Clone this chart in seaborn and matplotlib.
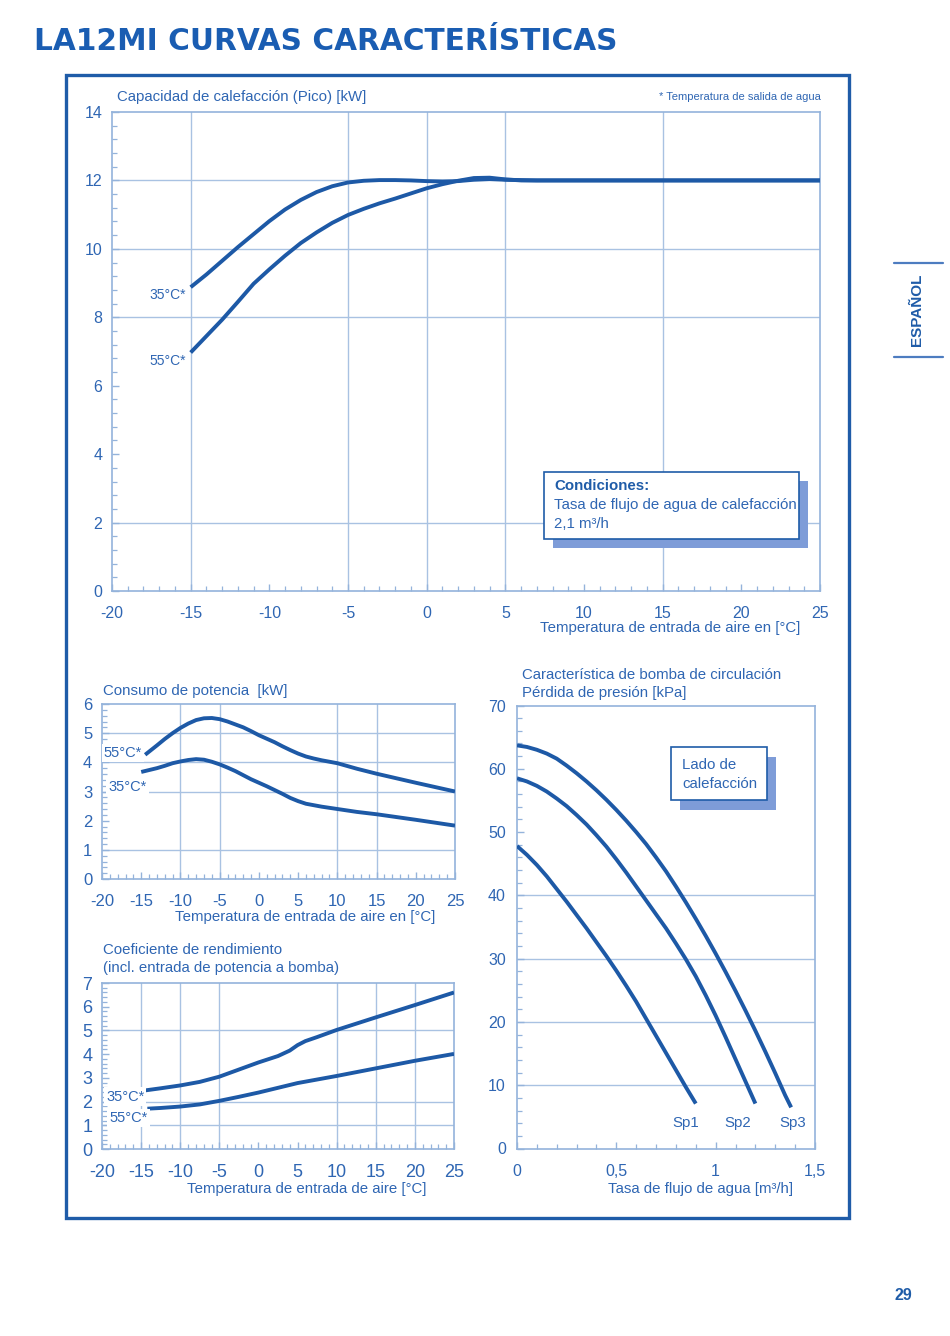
import numpy as np
import pandas as pd
import matplotlib
matplotlib.use("Agg")
import matplotlib.pyplot as plt
from matplotlib.patches import Rectangle
from matplotlib.lines import Line2D
from matplotlib.ticker import MultipleLocator, FixedLocator, FixedFormatter
import seaborn as sns

# ---------------- data ----------------
# capacidad de calefaccion [kW] vs temperatura de entrada de aire [C]
cap_t35 = [-15, -14, -13, -12, -11, -10, -9, -8, -7, -6, -5, -4, -3, -2, -1, 0, 1, 2, 3, 4, 5, 7, 25]
cap_v35 = [8.88, 9.25, 9.65, 10.05, 10.43, 10.81, 11.15, 11.43, 11.66, 11.83, 11.94, 11.99, 12.01, 12.01,
           12.0, 11.98, 11.97, 11.98, 12.02, 12.04, 12.02, 12.0, 12.0]
cap_t55 = [-15, -14, -13, -12, -11, -10, -9, -8, -7, -6, -5, -4, -3, -2, -1, 0, 1, 2, 3, 4, 5, 6, 7, 25]
cap_v55 = [6.97, 7.45, 7.93, 8.45, 8.98, 9.4, 9.8, 10.17, 10.48, 10.76, 10.99, 11.17, 11.33, 11.47,
           11.62, 11.77, 11.89, 11.99, 12.07, 12.08, 12.03, 12.0, 12.0, 12.0]

# consumo de potencia [kW]
pow_t55 = [-14.5, -13, -12, -11, -10, -9, -8, -7, -6, -5, -4, -3, -2, -1, 0, 1, 2, 3, 4, 5, 6, 7, 8, 9,
           10, 12.5, 15, 20, 25]
pow_v55 = [4.26, 4.58, 4.8, 5.0, 5.18, 5.33, 5.45, 5.51, 5.52, 5.48, 5.4, 5.3, 5.2, 5.07, 4.93, 4.81,
           4.69, 4.55, 4.42, 4.3, 4.2, 4.13, 4.07, 4.02, 3.97, 3.78, 3.61, 3.3, 3.0]
pow_t35 = [-15, -13, -12, -11, -10, -9, -8, -7, -6, -5, -4, -3, -2, -1, 0, 1, 2, 3, 4, 5, 6, 7, 8, 10,
           12.5, 15, 20, 25]
pow_v35 = [3.67, 3.8, 3.88, 3.97, 4.03, 4.08, 4.11, 4.09, 4.02, 3.93, 3.82, 3.7, 3.56, 3.42, 3.3, 3.18,
           3.05, 2.92, 2.78, 2.67, 2.58, 2.53, 2.48, 2.4, 2.3, 2.22, 2.03, 1.83]

# coeficiente de rendimiento
cop_t35 = [-14.5, -12.5, -10, -7.5, -5, -2.5, 0, 2.5, 4, 5, 6, 7.5, 10, 15, 20, 25]
cop_v35 = [2.47, 2.56, 2.68, 2.83, 3.05, 3.35, 3.65, 3.92, 4.15, 4.38, 4.55, 4.72, 5.02, 5.55, 6.07, 6.6]
cop_t55 = [-14.2, -12.5, -10, -7.5, -5, -2.5, 0, 2.5, 5, 7.5, 10, 15, 20, 25]
cop_v55 = [1.7, 1.73, 1.79, 1.88, 2.03, 2.2, 2.38, 2.58, 2.78, 2.93, 3.08, 3.4, 3.72, 4.01]

# bomba de circulacion: perdida de presion [kPa] vs caudal [m3/h]
sp1_q = [0, 0.05, 0.1, 0.15, 0.2, 0.25, 0.3, 0.35, 0.4, 0.45, 0.5, 0.55, 0.6, 0.65, 0.7, 0.75, 0.8,
         0.85, 0.9]
sp1_p = [47.8, 46.4, 44.8, 43.0, 41.0, 39.0, 36.9, 34.8, 32.6, 30.4, 28.1, 25.7, 23.2, 20.5, 17.8, 15.1,
         12.4, 9.7, 7.1]
sp2_q = [0, 0.05, 0.1, 0.15, 0.2, 0.25, 0.3, 0.35, 0.4, 0.45, 0.5, 0.55, 0.6, 0.65, 0.7, 0.75, 0.8,
         0.85, 0.9, 0.95, 1.0, 1.05, 1.1, 1.15, 1.2]
sp2_p = [58.5, 58.0, 57.3, 56.4, 55.3, 54.1, 52.7, 51.2, 49.5, 47.7, 45.7, 43.6, 41.4, 39.2, 37.0, 34.8,
         32.4, 29.9, 27.2, 24.2, 21.0, 17.6, 14.1, 10.6, 7.1]
sp3_q = [0, 0.05, 0.1, 0.15, 0.2, 0.25, 0.3, 0.35, 0.4, 0.45, 0.5, 0.55, 0.6, 0.65, 0.7, 0.75, 0.8,
         0.85, 0.9, 0.95, 1.0, 1.05, 1.1, 1.15, 1.2, 1.25, 1.3, 1.35, 1.38]
sp3_p = [63.7, 63.45, 63.0, 62.4, 61.6, 60.5, 59.3, 58.0, 56.6, 55.1, 53.5, 51.8, 50.0, 48.1, 46.0, 43.8,
         41.4, 38.9, 36.3, 33.6, 30.8, 27.9, 24.9, 21.8, 18.6, 15.3, 11.9, 8.4, 6.5]
sp_names = ["Sp1", "Sp2", "Sp3"]

pump_ticks = [0, 0.5, 1, 1.5]
pump_ticklabels = ["0", "0,5", "1", "1,5"]

# ---------------- style ----------------
sns.set_style("white")
plt.rcParams['font.family'] = ['Liberation Sans', 'DejaVu Sans']
plt.rcParams['axes.unicode_minus'] = False

CURVE = "#1d59a6"
GRID = "#a9c2e2"
SPINE = "#94b3db"
TXT = "#2f66b3"
FRAME = "#1f5ca8"
SHADOW = "#7e9cd8"
FS = 10.8

W, H = 950, 1336
fig = plt.figure(figsize=(W / 100, H / 100), dpi=100)
fig.patch.set_facecolor("white")


def fx(px):
    return px / W


def fy(py):
    return 1 - py / H


def add_axes(x0, y0, x1, y1):
    return fig.add_axes([fx(x0), fy(y1), (x1 - x0) / W, (y1 - y0) / H])


def style_axes(ax, xminor, yminor, fs, xpad=10.5):
    for s in ax.spines.values():
        s.set_color(SPINE)
        s.set_linewidth(1.2)
    ax.xaxis.set_minor_locator(MultipleLocator(xminor))
    ax.yaxis.set_minor_locator(MultipleLocator(yminor))
    ax.tick_params(which="both", direction="in", color=SPINE, labelcolor=TXT,
                   bottom=True, left=True, top=False, right=False, labelsize=fs)
    ax.tick_params(which="major", length=5, width=1.0, pad=7)
    ax.tick_params(axis="x", which="major", pad=xpad)
    ax.tick_params(which="minor", length=3.5, width=0.9)
    ax.set_xlabel("")
    ax.set_ylabel("")


def grid_lines(ax, xs, ys):
    for v in xs:
        ax.axvline(v, color=GRID, lw=1.0, zorder=0)
    for v in ys:
        ax.axhline(v, color=GRID, lw=1.0, zorder=0)


def curve(ax, xs, ys):
    sns.lineplot(x=xs, y=ys, ax=ax, color=CURVE, linewidth=2.8, estimator=None,
                 solid_capstyle="butt", solid_joinstyle="round", zorder=3)


def tag(ax, x, y, s, fs=10, ha="right"):
    ax.text(x, y, s, ha=ha, va="center", fontsize=fs, color=TXT, zorder=4,
            bbox=dict(boxstyle="square,pad=0.15", fc="white", ec="none"))


def ftext(x, y, s, ha="left", fs=FS, **kw):
    fig.text(fx(x), fy(y), s, ha=ha, va="center", fontsize=fs, color=kw.pop("color", TXT), **kw)


def boxed_note(x0, y0, x1, y1, dx, dy):
    fig.add_artist(Rectangle((fx(x0 + dx), fy(y1 + dy)), (x1 - x0) / W, (y1 - y0) / H,
                             transform=fig.transFigure, fc=SHADOW, ec="none", zorder=5))
    fig.add_artist(Rectangle((fx(x0), fy(y1)), (x1 - x0) / W, (y1 - y0) / H,
                             transform=fig.transFigure, fc="white", ec=FRAME, lw=1.2, zorder=6))


# ---------------- page heading and frame ----------------
fig.text(fx(34), fy(41), "LA12MI CURVAS CARACTERÍSTICAS", ha="left", va="center",
         fontsize=21.3, fontweight="bold", color="#1a5db2", family=["DejaVu Sans"])
fig.add_artist(Rectangle((fx(66), fy(1218)), (849 - 66) / W, (1218 - 75) / H,
                         transform=fig.transFigure, fill=False, ec=FRAME, lw=2.4))

# side tab
for yy in (263, 357):
    fig.add_artist(Line2D([fx(894), fx(943)], [fy(yy), fy(yy)], transform=fig.transFigure,
                          color="#4d7cc0", lw=1.6))
fig.text(fx(917), fy(310), "ESPAÑOL", rotation=90, ha="center", va="center",
         fontsize=11, fontweight="bold", color="#1f5ca8")
fig.text(fx(903), fy(1296), "29", ha="center", va="center", fontsize=11.5, fontweight="bold",
         color="#1f5ca8")

# ---------------- chart 1: capacidad ----------------
ax1 = add_axes(112, 112, 820, 591)
grid_lines(ax1, [-15, -5, 0, 5, 15], [2, 8, 10, 12])
curve(ax1, cap_t35, cap_v35)
curve(ax1, cap_t55, cap_v55)
ax1.set_xlim(-20, 25)
ax1.set_ylim(0, 14)
ax1.set_xticks(np.arange(-20, 26, 5))
ax1.set_yticks(np.arange(0, 15, 2))
style_axes(ax1, 1, 0.4, 11.5, xpad=10.5)
tag(ax1, -15.3, 8.64, "35°C*")
tag(ax1, -15.3, 6.72, "55°C*")
ftext(117, 97, "Capacidad de calefacción (Pico) [kW]")
ftext(821, 97, "* Temperatura de salida de agua", ha="right", fs=8.0)
ftext(670, 628, "Temperatura de entrada de aire en [°C]", ha="center")
boxed_note(544, 472, 799, 539, 9, 9)
ftext(554, 486, "Condiciones:", fontweight="bold", color="#1f5ca8", zorder=7)
ftext(554, 505, "Tasa de flujo de agua de calefacción", zorder=7)
ftext(554, 524, "2,1 m³/h", zorder=7)

# ---------------- chart 2: consumo de potencia ----------------
ax2 = add_axes(102, 704, 455, 879)
grid_lines(ax2, [-10, -5, 10, 15], [1, 3, 4, 5])
curve(ax2, pow_t55, pow_v55)
curve(ax2, pow_t35, pow_v35)
ax2.set_xlim(-20, 25)
ax2.set_ylim(0, 6)
ax2.set_xticks(np.arange(-20, 26, 5))
ax2.set_yticks(np.arange(0, 7, 1))
style_axes(ax2, 1, 0.2, 12, xpad=11)
tag(ax2, -14.9, 4.33, "55°C*", fs=10.5)
tag(ax2, -14.3, 3.17, "35°C*", fs=10.5)
ftext(103, 691, "Consumo de potencia  [kW]")
ftext(305, 917, "Temperatura de entrada de aire en [°C]", ha="center")

# ---------------- chart 3: COP ----------------
ax3 = add_axes(102, 983, 454, 1149)
grid_lines(ax3, [-15, -10, -5, 10, 15, 20], [1, 2, 5])
curve(ax3, cop_t35, cop_v35)
curve(ax3, cop_t55, cop_v55)
ax3.set_xlim(-20, 25)
ax3.set_ylim(0, 7)
ax3.set_xticks(np.arange(-20, 26, 5))
ax3.set_yticks(np.arange(0, 8, 1))
style_axes(ax3, 1, 0.2, 13, xpad=11)
tag(ax3, -14.6, 2.21, "35°C*", fs=10.5)
tag(ax3, -14.2, 1.32, "55°C*", fs=10.5)
ftext(103, 950, "Coeficiente de rendimiento")
ftext(103, 968, "(incl. entrada de potencia a bomba)")
ftext(307, 1189, "Temperatura de entrada de aire [°C]", ha="center")

# ---------------- chart 4: bomba ----------------
ax4 = add_axes(517, 705.5, 815, 1148.5)
grid_lines(ax4, [], [10, 20, 30, 40])
curve(ax4, sp1_q, sp1_p)
curve(ax4, sp2_q, sp2_p)
curve(ax4, sp3_q, sp3_p)
ax4.set_xlim(0, 1.5)
ax4.set_ylim(0, 70)
ax4.xaxis.set_major_locator(FixedLocator(pump_ticks))
ax4.xaxis.set_major_formatter(FixedFormatter(pump_ticklabels))
ax4.set_yticks(np.arange(0, 71, 10))
style_axes(ax4, 0.1, 2, 11.5, xpad=11)
ax4.tick_params(axis="y", which="major", pad=8)
for q, name in zip([0.85, 1.11, 1.39], sp_names):
    ax4.text(q, 4.0, name, ha="center", va="center", fontsize=10.8, color=TXT)
ftext(522, 675, "Característica de bomba de circulación")
ftext(522, 693, "Pérdida de presión [kPa]")
ftext(701, 1189, "Tasa de flujo de agua [m³/h]", ha="center")
boxed_note(671, 747, 767, 800, 9, 10)
ftext(682, 765, "Lado de", zorder=7)
ftext(682, 783.5, "calefacción", zorder=7)

fig.savefig("out.png", dpi=100)
